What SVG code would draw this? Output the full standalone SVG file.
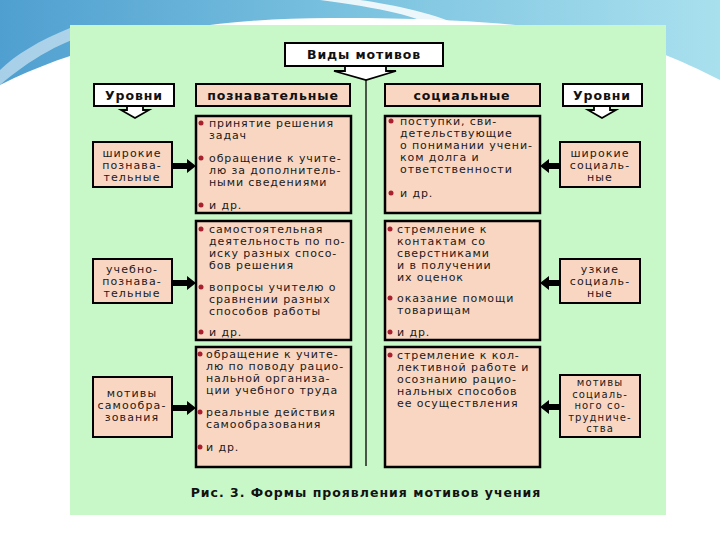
<svg xmlns="http://www.w3.org/2000/svg" width="720" height="540" viewBox="0 0 720 540">
<defs>
<linearGradient id="sky" x1="0" y1="0" x2="1" y2="0">
<stop offset="0" stop-color="#4f9fd0"/>
<stop offset="0.5" stop-color="#7cc3e0"/>
<stop offset="1" stop-color="#a9e0ee"/>
</linearGradient>
<style>
.t{font-family:"DejaVu Sans",Verdana,sans-serif;font-size:11px;letter-spacing:0.9px;fill:#1a1a1a}
.lv{font-family:"DejaVu Sans",Verdana,sans-serif;font-size:11px;letter-spacing:1.1px;fill:#1a1a1a;text-anchor:middle}
.h{font-family:"DejaVu Sans",Verdana,sans-serif;font-size:12.5px;font-weight:bold;letter-spacing:0.9px;fill:#111;text-anchor:middle}
.cap{font-family:"DejaVu Sans",Verdana,sans-serif;font-size:12.5px;font-weight:bold;letter-spacing:1px;fill:#111;text-anchor:middle}
.wb{fill:#ffffff;stroke:#000;stroke-width:2}
.pb{fill:#f9d6c2;stroke:#000;stroke-width:2}
.cb{fill:#f9d6c2;stroke:#000;stroke-width:2.5}
.blk{fill:#000}
.bul{fill:#a8202e}
.ha{fill:#fff;stroke:#000;stroke-width:1.8;stroke-linejoin:miter}
</style>
</defs>
<rect width="720" height="540" fill="#ffffff"/>
<path d="M0,0 H720 V80 C680,60 640,40 560,30 C480,20 420,18 330,18 C200,18 90,40 0,85 Z" fill="url(#sky)"/>
<path d="M320,0 C380,8 420,16 440,30 L470,30 C440,14 390,4 360,0 Z" fill="#ffffff" opacity="0.85"/>
<path d="M0,85 C30,60 60,40 110,28 L70,28 C40,40 15,55 0,70 Z" fill="#ffffff" opacity="0.5"/>
<rect x="70" y="25" width="596" height="490" fill="#c8f8c8"/>

<g id="connectors">
<line x1="366" y1="79" x2="366" y2="466" stroke="#000" stroke-width="1.3"/>
<path class="ha" d="M345,66 H386 V71 H396 L366,80 L334,71 H345 Z"/>
<path class="ha" d="M127,106 H143 V110 H149 L135,118 L121,110 H127 Z"/>
<path class="ha" d="M594,106 H610 V110 H616 L602,118 L588,110 H594 Z"/>
<path class="blk" d="M172,163 H187 V159 L196,166 L187,173 V169 H172 Z"/>
<path class="blk" d="M172,280 H187 V276 L196,283 L187,290 V286 H172 Z"/>
<path class="blk" d="M172,405 H187 V401 L196,408 L187,415 V411 H172 Z"/>
<path class="blk" d="M560,163 H549 V159 L540,166 L549,173 V169 H560 Z"/>
<path class="blk" d="M560,280 H549 V276 L540,283 L549,290 V286 H560 Z"/>
<path class="blk" d="M560,404 H549 V400 L540,407 L549,414 V410 H560 Z"/>
</g>

<g id="vidy">
<rect class="wb" x="285" y="43" width="158" height="23"/>
<text class="h" x="364" y="59" style="font-size:12.5px">Виды мотивов</text>
</g>

<g id="urovni-left">
<rect class="wb" x="94" y="84" width="80" height="22"/>
<text class="h" x="134" y="100">Уровни</text>
</g>
<g id="urovni-right">
<rect class="wb" x="563" y="84" width="79" height="22"/>
<text class="h" x="602" y="100">Уровни</text>
</g>

<g id="poznav">
<rect class="pb" x="196" y="84" width="154" height="22"/>
<text class="h" x="273" y="100">познавательные</text>
</g>
<g id="social">
<rect class="pb" x="385" y="84" width="155" height="22"/>
<text class="h" x="462" y="100">социальные</text>
</g>

<g id="left-1">
<rect class="cb" x="196" y="116" width="155" height="97"/>
<circle class="bul" cx="201" cy="123" r="2.5"/>
<text class="t" x="209" y="127">принятие решения</text>
<text class="t" x="209" y="139">задач</text>
<circle class="bul" cx="201" cy="158" r="2.5"/>
<text class="t" x="209" y="162">обращение к учите-</text>
<text class="t" x="209" y="174">лю за дополнитель-</text>
<text class="t" x="209" y="186">ными сведениями</text>
<circle class="bul" cx="201" cy="205" r="2.5"/>
<text class="t" x="209" y="209">и др.</text>
</g>

<g id="left-2">
<rect class="cb" x="196" y="221" width="155" height="119"/>
<circle class="bul" cx="201" cy="229" r="2.5"/>
<text class="t" x="209" y="233">самостоятельная</text>
<text class="t" x="209" y="245">деятельность по по-</text>
<text class="t" x="209" y="257">иску разных спосо-</text>
<text class="t" x="209" y="269">бов решения</text>
<circle class="bul" cx="201" cy="287" r="2.5"/>
<text class="t" x="209" y="291">вопросы учителю о</text>
<text class="t" x="209" y="303">сравнении разных</text>
<text class="t" x="209" y="315">способов работы</text>
<circle class="bul" cx="201" cy="332" r="2.5"/>
<text class="t" x="209" y="336">и др.</text>
</g>

<g id="left-3">
<rect class="cb" x="196" y="347" width="155" height="120"/>
<circle class="bul" cx="200" cy="354" r="2.5"/>
<text class="t" x="206" y="358">обращение к учите-</text>
<text class="t" x="206" y="370">лю по поводу рацио-</text>
<text class="t" x="206" y="382">нальной организа-</text>
<text class="t" x="206" y="394">ции учебного труда</text>
<circle class="bul" cx="200" cy="412" r="2.5"/>
<text class="t" x="206" y="416">реальные действия</text>
<text class="t" x="206" y="428">самообразования</text>
<circle class="bul" cx="200" cy="447" r="2.5"/>
<text class="t" x="206" y="451">и др.</text>
</g>

<g id="right-1">
<rect class="cb" x="385" y="116" width="155" height="97"/>
<circle class="bul" cx="391" cy="121" r="2.5"/>
<text class="t" x="400" y="125">поступки, сви-</text>
<text class="t" x="400" y="137">детельствующие</text>
<text class="t" x="400" y="149">о понимании учени-</text>
<text class="t" x="400" y="161">ком долга и</text>
<text class="t" x="400" y="173">ответственности</text>
<circle class="bul" cx="391" cy="193" r="2.5"/>
<text class="t" x="400" y="197">и др.</text>
</g>

<g id="right-2">
<rect class="cb" x="385" y="221" width="155" height="119"/>
<circle class="bul" cx="390" cy="229" r="2.5"/>
<text class="t" x="397" y="233">стремление к</text>
<text class="t" x="397" y="245">контактам со</text>
<text class="t" x="397" y="257">сверстниками</text>
<text class="t" x="397" y="269">и в получении</text>
<text class="t" x="397" y="281">их оценок</text>
<circle class="bul" cx="390" cy="298" r="2.5"/>
<text class="t" x="397" y="302">оказание помощи</text>
<text class="t" x="397" y="314">товарищам</text>
<circle class="bul" cx="390" cy="332" r="2.5"/>
<text class="t" x="397" y="336">и др.</text>
</g>

<g id="right-3">
<rect class="cb" x="385" y="347" width="155" height="120"/>
<circle class="bul" cx="390" cy="355" r="2.5"/>
<text class="t" x="397" y="359">стремление к кол-</text>
<text class="t" x="397" y="371">лективной работе и</text>
<text class="t" x="397" y="383">осознанию рацио-</text>
<text class="t" x="397" y="395">нальных способов</text>
<text class="t" x="397" y="407">ее осуществления</text>
</g>

<g id="lvl-left-1">
<rect class="pb" x="93" y="142" width="79" height="45"/>
<text class="lv" x="132" y="157">широкие</text>
<text class="lv" x="132" y="169">познава-</text>
<text class="lv" x="132" y="181">тельные</text>
</g>
<g id="lvl-left-2">
<rect class="pb" x="93" y="259" width="79" height="44"/>
<text class="lv" x="132" y="273">учебно-</text>
<text class="lv" x="132" y="285">познава-</text>
<text class="lv" x="132" y="297">тельные</text>
</g>
<g id="lvl-left-3">
<rect class="pb" x="93" y="377" width="79" height="60"/>
<text class="lv" x="132" y="397">мотивы</text>
<text class="lv" x="132" y="409">самообра-</text>
<text class="lv" x="132" y="421">зования</text>
</g>

<g id="lvl-right-1">
<rect class="pb" x="560" y="142" width="80" height="45"/>
<text class="lv" x="600" y="157">широкие</text>
<text class="lv" x="600" y="169">социаль-</text>
<text class="lv" x="600" y="181">ные</text>
</g>
<g id="lvl-right-2">
<rect class="pb" x="560" y="259" width="80" height="44"/>
<text class="lv" x="600" y="273">узкие</text>
<text class="lv" x="600" y="285">социаль-</text>
<text class="lv" x="600" y="297">ные</text>
</g>
<g id="lvl-right-3">
<rect class="pb" x="560" y="375" width="80" height="62"/>
<text class="lv" x="600" y="386" style="font-size:10px">мотивы</text>
<text class="lv" x="600" y="397.5" style="font-size:10px">социаль-</text>
<text class="lv" x="600" y="409" style="font-size:10px">ного со-</text>
<text class="lv" x="600" y="420.5" style="font-size:10px">трудниче-</text>
<text class="lv" x="600" y="432" style="font-size:10px">ства</text>
</g>

<text class="cap" x="366" y="497">Рис. 3. Формы проявления мотивов учения</text>
</svg>
